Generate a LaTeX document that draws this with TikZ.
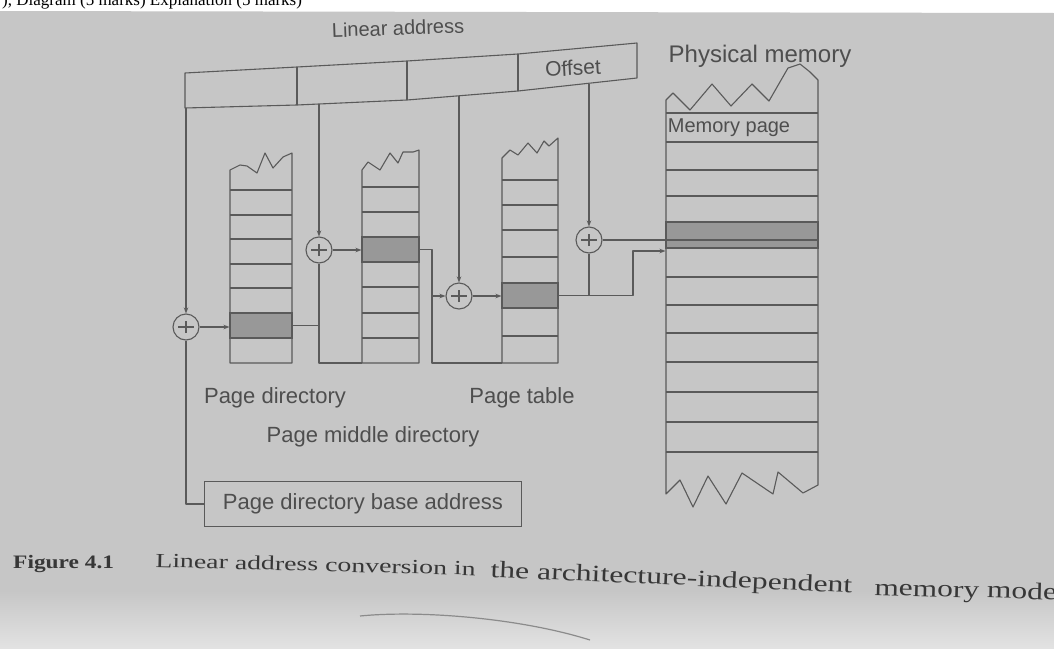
\documentclass[tikz,border=0pt]{standalone}
\usepackage{fontspec}
\setmainfont{Liberation Serif}
\newfontfamily\labfont{Liberation Sans}
\usetikzlibrary{arrows.meta}
\definecolor{paper}{RGB}{198,198,198}
\definecolor{paperlow}{RGB}{226,226,226}
\definecolor{ink}{RGB}{90,90,90}
\definecolor{txt}{RGB}{78,78,78}
\definecolor{cellgrey}{RGB}{152,152,152}
\definecolor{capink}{RGB}{55,55,55}
\tikzset{
  wire/.style={draw=ink, line width=1.1pt, line join=round},
  arr/.style={wire, -{Stealth[length=6pt,width=4.5pt]}},
  adder/.style={circle, draw=ink, line width=1.1pt, minimum size=26pt, inner sep=0pt,
    path picture={\draw[ink,line width=1.2pt] ([xshift=-8pt]path picture bounding box.center) -- ([xshift=8pt]path picture bounding box.center);
      \draw[ink,line width=1.2pt] ([yshift=-6pt]path picture bounding box.center) -- ([yshift=6pt]path picture bounding box.center);}},
  entry/.style={fill=cellgrey, draw=ink, line width=1.1pt, inner sep=0pt, minimum height=25pt},
  lab/.style={text=txt, inner sep=0pt, font=\labfont\fontsize{22}{26}\selectfont},
  captext/.style={text=capink, inner sep=0pt, anchor=base west},
}
\begin{document}
\begin{tikzpicture}[x=1pt,y=-1pt]
\fill[white] (0,0) rectangle (1054,648);
\useasboundingbox (0,0) rectangle (1054,648);
\node[captext, font=\fontsize{17}{20}\selectfont, text=black] (head) at (2,5) {), Diagram (5 marks) Explanation (5 marks)};
\fill[paper] (0,11) -- (1054,13) -- (1054,648) -- (0,648) -- cycle;
\shade[top color=paper, bottom color=paperlow] (0,590) rectangle (1054,648);

% linear address bar
\draw[wire] (185,73) -- (297,67) -- (407,61) -- (518,54) -- (637,43) -- (637,78) -- (518,91) -- (407,100) -- (297,105) -- (185,108) -- cycle;
\draw[wire] (297,67) -- (297,105) (407,61) -- (407,100) (518,54) -- (518,91);
\coordinate (b1) at (186,108);
\coordinate (b2) at (319,104);
\coordinate (b3) at (459,96);
\coordinate (b4) at (589,84);
\node[lab, rotate=2, font=\labfont\fontsize{20}{24}\selectfont] (lla) at (398,28) {Linear address};
\node[lab, rotate=3, font=\labfont\fontsize{21}{24}\selectfont] (loff) at (573,68) {Offset};

% page directory
\draw[wire] (230,363) -- (230,170) -- (240,165) -- (247,166) -- (257,173) -- (265,153) -- (273,168) -- (283,157) -- (292,153) -- (292,363) -- cycle;
\foreach \y in {190,215,239,264,288,313,338} \draw[wire] (230,\y) -- (292,\y);
\node[entry, minimum width=62pt] (pde) at (261,325.5) {};

% page middle directory
\draw[wire] (362,363) -- (362,170) -- (368,162) -- (380,170) -- (390,153) -- (398,163) -- (403,152) -- (413,152) -- (419,150) -- (419,363) -- cycle;
\foreach \y in {187,212,237,262,287,313,338} \draw[wire] (362,\y) -- (419,\y);
\node[entry, minimum width=57pt] (pmde) at (390.5,249.5) {};

% page table
\draw[wire] (502,363) -- (502,158) -- (510,150) -- (518,155) -- (528,143) -- (537,153) -- (544,141) -- (549,146) -- (558,138) -- (558,363) -- cycle;
\foreach \y in {180,205,230,257,283,308,336} \draw[wire] (502,\y) -- (558,\y);
\node[entry, minimum width=56pt] (pte) at (530,295.5) {};

% physical memory
\draw[wire] (666,452) -- (666,100) -- (673,93) -- (690,110) -- (712,84) -- (731,106) -- (752,84) -- (769,101) -- (788,68) -- (800,64) -- (810,72) -- (818,80) -- (818,452);
\draw[wire] (666,452) -- (666,494) -- (680,480) -- (693,507) -- (708,476) -- (726,504) -- (742,473) -- (773,494) -- (778,472) -- (803,493) -- (818,485) -- (818,452);
\foreach \y in {113,142,170,196,222,248,277,305,333,362,392,422,452} \draw[wire] (666,\y) -- (818,\y);
\node[entry, minimum width=152pt, minimum height=26pt] (mpe) at (742,235) {};
\node[lab, font=\labfont\fontsize{20}{24}\selectfont] (lmp) at (729,128) {Memory page};
\node[lab, font=\labfont\fontsize{24}{28}\selectfont] (lpm) at (760,56) {Physical memory};

% adders
\node[adder] (a1) at (186,327) {};
\node[adder] (a2) at (319,250) {};
\node[adder] (a3) at (459,296) {};
\node[adder] (a4) at (589,240) {};

\draw[arr] (b1) -- (a1);
\draw[arr] (b2) -- (a2);
\draw[arr] (b3) -- (a3);
\draw[arr] (b4) -- (a4);
\draw[arr] (a1) -- (a1 -| pde.west);
\draw[arr] (a2) -- (a2 -| pmde.west);
\draw[arr] (a3) -- (a3 -| pte.west);
\draw[wire] (a4) -- (a4 -| mpe.east);

% base address box
\node[draw=ink, line width=1.1pt, lab, minimum width=317pt, minimum height=45pt] (pdba) at (363,504) {Page directory base address};
\draw[wire] (pdba.west) -- (pdba.west -| a1) -- (a1);

% chaining
\coordinate (pmdb) at (362,363);
\coordinate (ptb) at (502,363);
\coordinate (j3) at (432,249.5);
\coordinate (j4) at (633,295.5);
\coordinate (k4) at (633,251);
\draw[wire] (pde.east) -- (pde.east -| a2);
\draw[wire] (a2) -- (a2 |- pmdb) -- (pmdb);
\draw[wire] (pmde.east) -- (j3) -- (j3 |- ptb) -- (ptb);
\draw[arr] (j3 |- a3) -- (a3);
\draw[arr] (pte.east) -- (j4) -- (k4) -- (k4 -| mpe.west);
\draw[wire] (a4) -- (a4 |- pte.east);

% labels
\node[lab] (lpd) at (275,398) {Page directory};
\node[lab] (lpt) at (522,398) {Page table};
\node[lab] (lpmd) at (373,437) {Page middle directory};

% caption
\node[captext, xscale=1.23, font=\bfseries\fontsize{19}{22}\selectfont] (cfig) at (13,568) {Figure 4.1};
\node[captext, rotate=-1.5, xscale=1.39, font=\fontsize{20}{24}\selectfont] (c1) at (155,567) {Linear address conversion in};
\node[captext, rotate=-2.5, xscale=1.35, font=\fontsize{23.5}{28}\selectfont] (c2) at (490,577) {the architecture-independent};
\node[captext, rotate=-1.5, xscale=1.31, font=\fontsize{24}{28}\selectfont] (c3) at (874,595) {memory model};
\draw[ink!70, line width=1.2pt] (360,616) .. controls (420,610) and (520,618) .. (590,640);
\end{tikzpicture}
\end{document}
